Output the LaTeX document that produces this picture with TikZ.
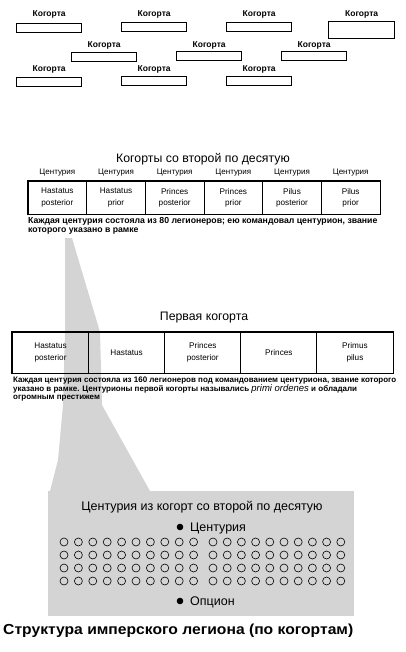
\documentclass[tikz,border=0pt]{standalone}
\usepackage{fontspec}
\setmainfont{Liberation Sans}
\newfontfamily\widefont[FakeStretch=1.08]{Liberation Sans}
\usetikzlibrary{positioning}

\tikzset{
  cohortbox/.style={draw,line width=1.3pt,minimum width=65pt,minimum height=9pt,inner sep=0pt,anchor=north west},
  cohortlabel/.style={font=\bfseries\fontsize{8.5}{10}\selectfont,inner sep=0pt,anchor=base},
  cellA/.style={draw,line width=0.9pt,minimum width=58.67pt,minimum height=32.5pt,inner sep=0pt,align=center,font=\fontsize{8.2}{11.5}\selectfont},
  cellB/.style={draw,line width=0.9pt,minimum width=76.1pt,minimum height=41pt,inner sep=0pt,align=center,font=\fontsize{8.2}{12}\selectfont},
  centlabel/.style={font=\fontsize{8}{9}\selectfont,inner sep=0pt,anchor=base},
  heading/.style={font=\fontsize{12.3}{14}\selectfont,inner sep=0pt,anchor=base},
  notetext/.style={font=\bfseries\fontsize{8}{8.6}\selectfont,inner sep=0pt,anchor=base west,align=left},
  soldier/.style={draw,circle,line width=0.6pt,minimum size=8pt,inner sep=0pt},
  dotmark/.style={fill,circle,minimum size=6.6pt,inner sep=0pt},
  stipple/.style={fill=black!17},
}

\begin{document}
\begin{tikzpicture}[x=1pt,y=-1pt]
\useasboundingbox (0,0) rectangle (406,652);
% STIPPLED WEDGE AND CENTURY PANEL
\path [stipple] (65,238) -- (72,238) -- (100,332) -- (102,405) -- (150,491)
  -- (50,491) -- (58,460) -- (63,405) -- (65,332) -- cycle;
\path [stipple] (48,491) rectangle (354,616);
% TEN COHORTS
\node [cohortbox] (k1) at (16,23) {};
\node [cohortbox] (k2) at (121,22) {};
\node [cohortbox] (k3) at (226,22) {};
\node [cohortbox,minimum width=66pt,minimum height=17pt] (k4) at (328,21) {};
\node [cohortbox] (k5) at (71,52) {};
\node [cohortbox] (k6) at (176,51) {};
\node [cohortbox] (k7) at (281,51) {};
\node [cohortbox] (k8) at (16,77) {};
\node [cohortbox] (k9) at (121,76) {};
\node [cohortbox] (k10) at (226,76) {};
\foreach \k/\dy in {1/6,2/5,3/5,4/4,5/4,6/3,7/3,8/5,9/4,10/4}
  \node [cohortlabel] (kl\k) at ([yshift=\dy pt]k\k.north) {Когорта};
% COHORTS TWO TO TEN
\node [heading] (tA) at (203,163) {Когорты со второй по десятую};
\foreach \i/\txt in {1/{Hastatus\\posterior},2/{Hastatus\\prior},3/{Princes\\posterior},
    4/{Princes\\prior},5/{Pilus\\posterior},6/{Pilus\\prior}} {
  \node [cellA] (c\i) at ({28+58.67*(\i-0.5)},197.75) {\txt};
  \node [centlabel] (cl\i) at ([yshift=7pt]c\i.north) {Центурия};
}
\draw [line width=1.4pt] (c1.north west) rectangle (c6.south east);
\node [notetext,font=\bfseries\fontsize{8.7}{8.5}\selectfont] (nA) at (28,232.3) {Каждая центурия состояла из 80 легионеров; ею командовал центурион, звание\\
  которого указано в рамке};
% FIRST COHORT
\node [heading] (tB) at (204,320.5) {Первая когорта};
\foreach \i/\txt in {1/{Hastatus\\posterior},2/{Hastatus},3/{Princes\\posterior},
    4/{Princes},5/{Primus\\pilus}}
  \node [cellB] (f\i) at ({12.5+76.1*(\i-0.5)},352.5) {\txt};
\draw [line width=1.4pt] (f1.north west) rectangle (f5.south east);
\node [notetext] (nB) at (13,399.7) {Каждая центурия состояла из 160 легионеров под командованием центуриона, звание которого\\
  указано в рамке. Центурионы первой когорты назывались {\mdseries\itshape\fontsize{9.5}{8.6}\selectfont primi ordenes} и обладали\\
  огромным престижем};
% ONE CENTURY
\node [heading,font=\fontsize{12.5}{14}\selectfont] (tC) at (202,510) {Центурия из когорт со второй по десятую};
\node [dotmark] (cent) at (180,527) {};
\node [heading,font=\fontsize{12.5}{14}\selectfont,anchor=base west] (centt) at (190,531) {Центурия};
\foreach \r in {0,...,3}
  \foreach \c in {0,...,9} {
    \node [soldier] (sl\r\c) at ({64+14.4*\c},{542+13*\r}) {};
    \node [soldier] (sr\r\c) at ({213+14.2*\c},{542+13*\r}) {};
  }
\node [dotmark] (opt) at (180,601) {};
\node [heading,font=\fontsize{12.5}{14}\selectfont,anchor=base west] (optt) at (190,605) {Опцион};
% TITLE
\node [anchor=base west,inner sep=0pt,font=\widefont\bfseries\fontsize{14.5}{16}\selectfont] (title) at (3,634) {Структура имперского легиона (по когортам)};
\end{tikzpicture}
\end{document}
